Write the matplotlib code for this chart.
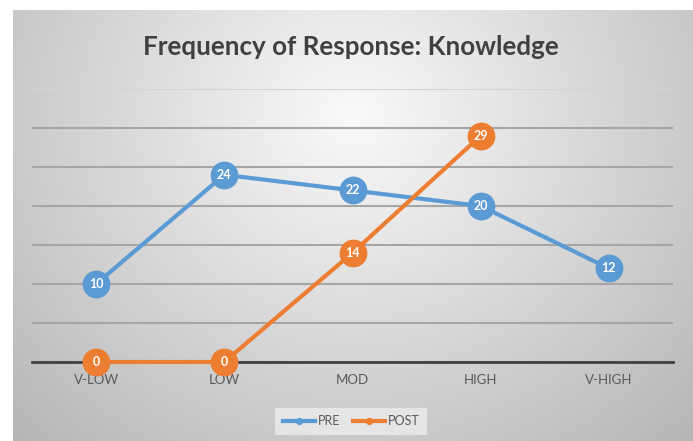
import numpy as np
import matplotlib.pyplot as plt

categories = ["V-LOW", "LOW", "MOD", "HIGH", "V-HIGH"]
pre = [10, 24, 22, 20, 12]
post = [0, 0, 14, 29]

blue = "#5B9BD5"
orange = "#ED7D31"

plt.rcParams['font.family'] = ['Lato', 'DejaVu Sans']

fig = plt.figure(figsize=(6.93, 4.41), dpi=100)
fig.patch.set_facecolor("white")

# gradient chart background
bg = fig.add_axes([13 / 693, 0, 1 - 13 / 693, 1 - 10 / 441])
yy, xx = np.mgrid[0:1:200j, 0:1:300j]
r = np.sqrt(((xx - 0.5) / 0.75) ** 2 + ((yy - 0.25) / 1.1) ** 2)
shade = np.clip(0.98 - 0.28 * r, 0, 1)
bg.imshow(np.dstack([shade] * 3), aspect="auto", extent=[0, 1, 1, 0])
bg.set_axis_off()

ax = fig.add_axes([32 / 693, 79 / 441, 641 / 693, 273 / 441])
ax.patch.set_alpha(0)

x = np.arange(len(categories))
ax.plot(x, pre, color=blue, lw=3, marker="o", ms=19, label="PRE", zorder=3,
        clip_on=False)
ax.plot(np.arange(len(post)), post, color=orange, lw=3, marker="o", ms=19,
        label="POST", zorder=4, clip_on=False)
for xi, v in zip(x, pre):
    ax.text(xi, v, str(v), color="white", ha="center", va="center",
            fontsize=9, fontweight="bold", zorder=5)
for xi, v in enumerate(post):
    ax.text(xi, v, str(v), color="white", ha="center", va="center",
            fontsize=9, fontweight="bold", zorder=6)

ax.set_xlim(-0.5, 4.5)
ax.set_ylim(0, 35)
ax.set_yticks(np.arange(0, 36, 5))
ax.set_yticklabels([])
ax.tick_params(axis="y", length=0)
ax.grid(axis="y", color="#a6a6a6", lw=1.5)
grid = ax.get_ygridlines()
grid[-1].set_color("#d4d4d4")
ax.set_axisbelow(True)
for s in ["left", "right", "top"]:
    ax.spines[s].set_visible(False)
ax.spines["bottom"].set_color("#404040")
ax.spines["bottom"].set_linewidth(2)
ax.set_xticks(x)
ax.set_xticklabels(categories, color="#595959", fontsize=9.5)
ax.tick_params(axis="x", length=0, pad=9)

fig.text(0.507, 0.893, "Frequency of Response: Knowledge", ha="center",
         va="center", fontsize=18.7, fontweight="bold", color="#404040")

leg = ax.legend(loc="center", ncol=2, frameon=True,
                facecolor="#ececec", edgecolor="none", fancybox=False,
                fontsize=9, handlelength=2.6, columnspacing=1.0,
                handletextpad=0.2, markerscale=0.22, labelcolor="#595959",
                borderpad=0.6)
leg.set_bbox_to_anchor((351 / 693, 1 - 421 / 441), transform=fig.transFigure)

fig.savefig("out.png", dpi=100)
